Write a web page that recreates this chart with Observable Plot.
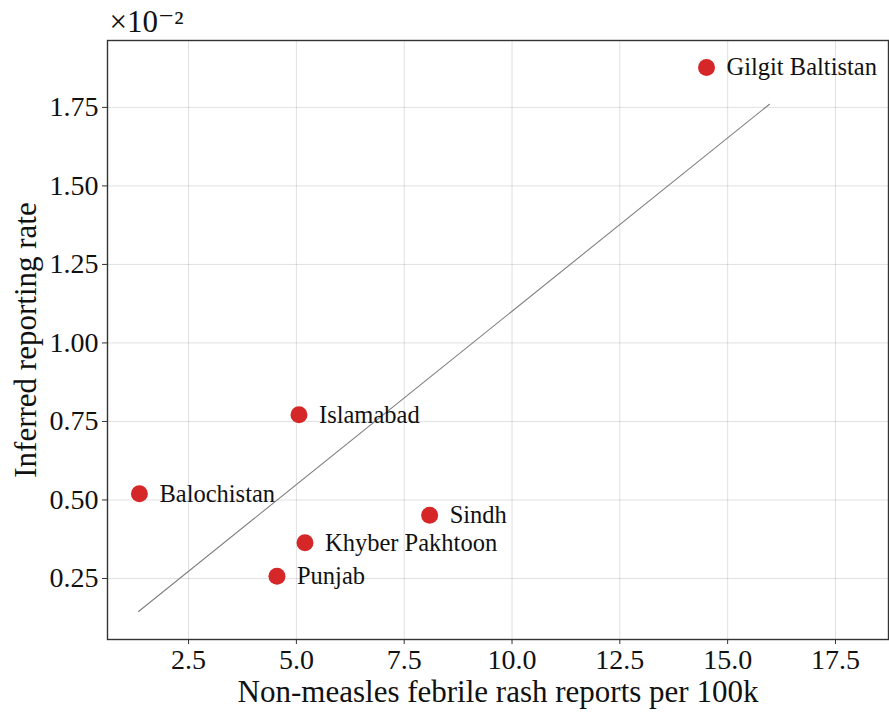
<!DOCTYPE html>
<html>
<head>
<meta charset="utf-8">
<script src="https://cdn.jsdelivr.net/npm/d3@7"></script>
<script src="https://cdn.jsdelivr.net/npm/@observablehq/plot@0.6"></script>
<style>
  html, body { margin: 0; padding: 0; background: #fff; }
  #chart svg { display: block; }
</style>
</head>
<body>
<div id="chart"></div>
<script>
// Provinces / territories of Pakistan
const regions = ["Gilgit Baltistan", "Islamabad", "Balochistan", "Sindh", "Khyber Pakhtoon", "Punjab"];
// Non-measles febrile rash reports per 100k population
const rashReports = [14.51, 5.06, 1.36, 8.09, 5.20, 4.55];
// Inferred reporting rate, in units of 10^-2
const reportingRate = [1.877, 0.771, 0.520, 0.451, 0.364, 0.257];

// Linear fit endpoints
const fitX = [1.34, 15.97];
const fitY = [0.145, 1.760];

const xTicks = [2.5, 5.0, 7.5, 10.0, 12.5, 15.0, 17.5];
const yTicks = [0.25, 0.50, 0.75, 1.00, 1.25, 1.50, 1.75];

const points = regions.map((name, i) => ({name, x: rashReports[i], y: reportingRate[i]}));
const fit = fitX.map((x, i) => ({x, y: fitY[i]}));

const serif = "'Liberation Serif', 'DejaVu Serif', serif";

const chart = Plot.plot({
  width: 889,
  height: 715,
  marginLeft: 107,
  marginRight: 1,
  marginTop: 40,
  marginBottom: 76,
  style: {fontFamily: serif, fontSize: "28px", color: "#111", background: "#fff"},
  x: {domain: [0.62, 18.73], ticks: xTicks, tickFormat: d3.format(".1f"), label: null},
  y: {domain: [0.0557, 1.963], ticks: yTicks, tickFormat: d3.format(".2f"), label: null},
  marks: [
    Plot.gridX(xTicks, {stroke: "#000", strokeOpacity: 0.12}),
    Plot.gridY(yTicks, {stroke: "#000", strokeOpacity: 0.12}),
    Plot.axisX(xTicks, {tickSize: 5, tickPadding: 5, fontSize: 28, fontFamily: serif, tickFormat: d3.format(".1f"), label: null, stroke: "#333"}),
    Plot.axisY(yTicks, {tickSize: 5, tickPadding: 4, fontSize: 28, fontFamily: serif, tickFormat: d3.format(".2f"), label: null, stroke: "#333"}),
    Plot.line(fit, {x: "x", y: "y", stroke: "#808080", strokeWidth: 1.1}),
    Plot.dot(points, {x: "x", y: "y", r: 8.5, fill: "#d62728", stroke: "none"}),
    Plot.text(points, {x: "x", y: "y", text: "name", dx: 20, textAnchor: "start", fontSize: 24.5, fontFamily: serif, fill: "#111"}),
    Plot.frame({stroke: "#333", strokeWidth: 1.4}),
    Plot.text(["×10⁻²"], {frameAnchor: "top-left", dx: 2, dy: -31, textAnchor: "start", lineAnchor: "top", fontSize: 31, fontFamily: serif, fill: "#111"}),
    Plot.text(["Non-measles febrile rash reports per 100k"], {frameAnchor: "bottom", dy: 53, lineAnchor: "middle", fontSize: 31, fontFamily: serif, fill: "#111"}),
    Plot.text(["Inferred reporting rate"], {frameAnchor: "left", dx: -81, rotate: -90, textAnchor: "middle", lineAnchor: "middle", fontSize: 31, fontFamily: serif, fill: "#111"})
  ]
});

document.getElementById("chart").appendChild(chart);
</script>
</body>
</html>
